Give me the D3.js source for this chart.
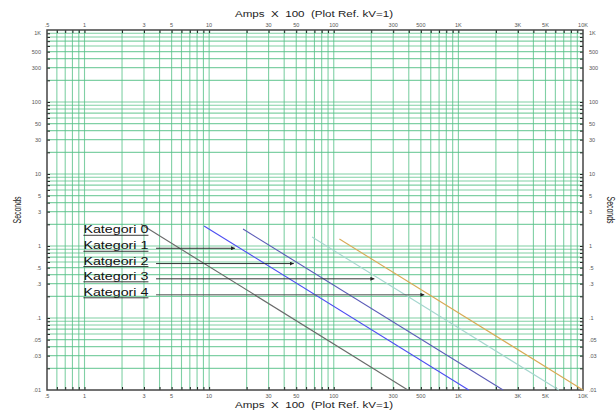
<!DOCTYPE html>
<html>
<head>
<script src='https://d3js.org/d3.v7.min.js'></script>
<style>
body {margin:0; background:#fff;}
svg {display:block; font-family:Arial, 'Liberation Sans', sans-serif;}
.ttl {white-space:pre;}
</style>
</head>
<body>
<svg width=616 height=417></svg>

<script>
var plotLeft = 47, plotRight = 583, plotTop = 30, plotBottom = 390

// data
var categories = ['Kategori 0','Kategori 1','Katgeori 2','Kategori 3','Kategori 4']
var curveAmps = [[2.84,393],[9.1,1211],[18.7,2285],[67,6400],[111,10000]]
var curveSecs = [[2.0,0.01],[1.9,0.01],[1.72,0.01],[1.33,0.01],[1.25,0.01]]
var labelSecs = [1.55,0.93,0.57,0.35,0.21]
var colors = ['#6a6a6a','#4d4df2','#5c5cb8','#a6d6cf','#d9aa55']
var xTickLabels = [[0.5,'.5'],[1,'1'],[3,'3'],[5,'5'],[10,'10'],[30,'30'],[50,'50'],[100,'100'],
                   [300,'300'],[500,'500'],[1000,'1K'],[3000,'3K'],[5000,'5K'],[10000,'10K']]
var yTickLabels = [[1000,'1K'],[500,'500'],[300,'300'],[100,'100'],[50,'50'],[30,'30'],[10,'10'],
                   [5,'5'],[3,'3'],[1,'1'],[0.5,'.5'],[0.3,'.3'],[0.1,'.1'],[0.05,'.05'],[0.03,'.03'],[0.01,'.01']]

var x = d3.scaleLog().domain([0.5,10000]).range([plotLeft,plotRight])
var y = d3.scaleLog().domain([0.01,1000]).range([plotBottom,plotTop])

var svg = d3.select('svg')

//grid lines
var gx = x.ticks().filter(function(d){return d>0.5 && d<10000})
var gy = y.ticks().filter(function(d){return d>0.01 && d<1000})

svg.append('g').selectAll('line').data(gx).enter().append('line')
   .attr('x1',function(d){return x(d)}).attr('x2',function(d){return x(d)})
   .attr('y1',plotTop).attr('y2',plotBottom)
   .attr('stroke','#55c087').attr('stroke-width',1.1).attr('stroke-opacity',0.75)

svg.append('g').selectAll('line').data(gy).enter().append('line')
   .attr('y1',function(d){return y(d)}).attr('y2',function(d){return y(d)})
   .attr('x1',plotLeft).attr('x2',plotRight)
   .attr('stroke','#55c087').attr('stroke-width',1.1).attr('stroke-opacity',0.75)

//small ticks inward on all four sides
var tl = 3
svg.append('g').call(d3.axisTop(x).tickValues(gx).tickSize(-tl).tickFormat(''))
   .attr('transform','translate(0,'+plotTop+')')
svg.append('g').call(d3.axisBottom(x).tickValues(gx).tickSize(-tl).tickFormat(''))
   .attr('transform','translate(0,'+plotBottom+')')
svg.append('g').call(d3.axisLeft(y).tickValues(gy).tickSize(-tl).tickFormat(''))
   .attr('transform','translate('+plotLeft+',0)')
svg.append('g').call(d3.axisRight(y).tickValues(gy).tickSize(-tl).tickFormat(''))
   .attr('transform','translate('+plotRight+',0)')
svg.selectAll('.domain').remove()
svg.selectAll('.tick line').attr('stroke','#222')

//frame
svg.append('rect').attr('x',plotLeft).attr('y',plotTop)
   .attr('width',plotRight-plotLeft).attr('height',plotBottom-plotTop)
   .attr('fill','none').attr('stroke','#444').attr('stroke-width',1.5)

//tick labels
var lab = svg.append('g').attr('font-size',5.5).attr('fill','#555')
xTickLabels.forEach(function(t){
  lab.append('text').attr('x',x(t[0])).attr('y',plotTop-3).attr('text-anchor','middle').text(t[1])
  lab.append('text').attr('x',x(t[0])).attr('y',plotBottom+8).attr('text-anchor','middle').text(t[1])
})
yTickLabels.forEach(function(t){
  var yy = Math.max(y(t[0]),33)
  lab.append('text').attr('x',plotLeft-6).attr('y',yy).attr('dy','0.35em').attr('text-anchor','end').text(t[1])
  lab.append('text').attr('x',plotRight+6).attr('y',yy).attr('dy','0.35em').attr('text-anchor','start').text(t[1])
})

//axis titles
svg.append('text').attr('class','ttl').attr('x',314).attr('y',16.5).attr('text-anchor','middle')
   .attr('font-size',8.5).attr('fill','#222')
   .attr('textLength',158).attr('lengthAdjust','spacingAndGlyphs')
   .text('Amps  X  100  (Plot Ref. kV=1)')
svg.append('text').attr('class','ttl').attr('x',314).attr('y',408).attr('text-anchor','middle')
   .attr('font-size',8.5).attr('fill','#222')
   .attr('textLength',158).attr('lengthAdjust','spacingAndGlyphs')
   .text('Amps  X  100  (Plot Ref. kV=1)')
svg.append('text').attr('transform','translate(21,210) rotate(-90)').attr('text-anchor','middle')
   .attr('font-size',10).attr('fill','#222')
   .attr('textLength',27).attr('lengthAdjust','spacingAndGlyphs').text('Seconds')
svg.append('text').attr('transform','translate(607,210) rotate(90)').attr('text-anchor','middle')
   .attr('font-size',10).attr('fill','#222')
   .attr('textLength',27).attr('lengthAdjust','spacingAndGlyphs').text('Seconds')

//curves
var line = d3.line().x(function(d){return x(d[0])}).y(function(d){return y(d[1])})
categories.forEach(function(c,i){
  var pts = [[curveAmps[i][0],curveSecs[i][0]],[curveAmps[i][1],curveSecs[i][1]]]
  svg.append('path').attr('d',line(pts)).attr('fill','none')
     .attr('stroke',colors[i]).attr('stroke-width',1.1)
})

//arrow marker
svg.append('defs').append('marker').attr('id','arr')
   .attr('viewBox','0 0 6 6').attr('refX',6).attr('refY',3)
   .attr('markerWidth',4).attr('markerHeight',4).attr('orient','auto')
   .append('path').attr('d','M0,0L6,3L0,6Z').attr('fill','#222')

//labels with arrows pointing at the curves
var labelAmps = 0.98
var arrowFrom = 3.75
categories.forEach(function(c,i){
  var yy = y(labelSecs[i])
  svg.append('text').attr('x',x(labelAmps)).attr('y',yy+1)
     .attr('font-size',10).attr('fill','#111')
     .attr('textLength',65).attr('lengthAdjust','spacingAndGlyphs').text(c)
  svg.append('line').attr('x1',x(labelAmps)).attr('x2',x(labelAmps)+65)
     .attr('y1',yy+3).attr('y2',yy+3).attr('stroke','#222').attr('stroke-width',0.9)
  // where the curve crosses this time, in log space
  var s0 = Math.log10(curveSecs[i][0]), s1 = Math.log10(curveSecs[i][1])
  var a0 = Math.log10(curveAmps[i][0]), a1 = Math.log10(curveAmps[i][1])
  var t = (Math.log10(labelSecs[i])-s0)/(s1-s0)
  var tip = x(Math.pow(10,a0+t*(a1-a0)))-5
  if (tip > x(arrowFrom)+5) {
    svg.append('line').attr('x1',x(arrowFrom)).attr('x2',tip)
       .attr('y1',yy).attr('y2',yy)
       .attr('stroke', i==4 ? '#555' : '#333').attr('stroke-width',1)
       .attr('marker-end','url(#arr)')
  }
})
</script>

</body>
</html>
